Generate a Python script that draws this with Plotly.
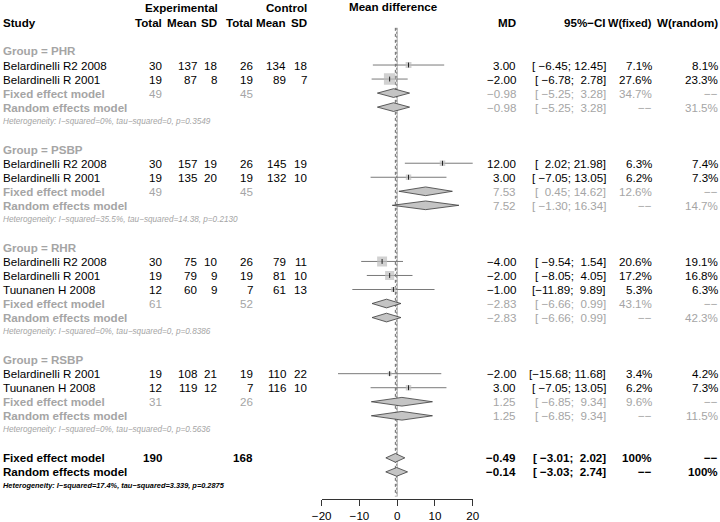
import plotly.graph_objects as go

# ---------------- data ----------------
group_names = ["PHR", "PSBP", "RHR", "RSBP"]

study_label = ["Belardinelli R2 2008", "Belardinelli R 2001",
               "Belardinelli R2 2008", "Belardinelli R 2001",
               "Belardinelli R2 2008", "Belardinelli R 2001", "Tuunanen H 2008",
               "Belardinelli R 2001", "Tuunanen H 2008"]
study_group = ["PHR", "PHR", "PSBP", "PSBP", "RHR", "RHR", "RHR", "RSBP", "RSBP"]
exp_total = [30, 19, 30, 19, 30, 19, 12, 19, 12]
exp_mean = [137, 87, 157, 135, 75, 79, 60, 108, 119]
exp_sd = [18, 8, 19, 20, 10, 9, 9, 21, 12]
ctl_total = [26, 19, 26, 19, 26, 19, 7, 19, 7]
ctl_mean = [134, 89, 145, 132, 79, 81, 61, 110, 116]
ctl_sd = [18, 7, 19, 10, 11, 10, 13, 22, 10]
study_md = [3.00, -2.00, 12.00, 3.00, -4.00, -2.00, -1.00, -2.00, 3.00]
study_lo = [-6.45, -6.78, 2.02, -7.05, -9.54, -8.05, -11.89, -15.68, -7.05]
study_hi = [12.45, 2.78, 21.98, 13.05, 1.54, 4.05, 9.89, 11.68, 13.05]
study_wfixed = [7.1, 27.6, 6.3, 6.2, 20.6, 17.2, 5.3, 3.4, 6.2]
study_wrandom = [8.1, 23.3, 7.4, 7.3, 19.1, 16.8, 6.3, 4.2, 7.3]

sub_exp_total = [49, 49, 61, 31]
sub_ctl_total = [45, 45, 52, 26]
sub_fixed_md = [-0.98, 7.53, -2.83, 1.25]
sub_fixed_lo = [-5.25, 0.45, -6.66, -6.85]
sub_fixed_hi = [3.28, 14.62, 0.99, 9.34]
sub_fixed_w = [34.7, 12.6, 43.1, 9.6]
sub_random_md = [-0.98, 7.52, -2.83, 1.25]
sub_random_lo = [-5.25, -1.30, -6.66, -6.85]
sub_random_hi = [3.28, 16.34, 0.99, 9.34]
sub_random_w = [31.5, 14.7, 42.3, 11.5]
sub_het = ["Heterogeneity: I\u2212squared=0%, tau\u2212squared=0, p=0.3549",
           "Heterogeneity: I\u2212squared=35.5%, tau\u2212squared=14.38, p=0.2130",
           "Heterogeneity: I\u2212squared=0%, tau\u2212squared=0, p=0.8386",
           "Heterogeneity: I\u2212squared=0%, tau\u2212squared=0, p=0.5636"]

overall_exp_total = 190
overall_ctl_total = 168
overall_fixed = [-0.49, -3.01, 2.02]
overall_random = [-0.14, -3.03, 2.74]
overall_het = "Heterogeneity: I\u2212squared=17.4%, tau\u2212squared=3.339, p=0.2875"

x_ticks = [-20, -10, 0, 10, 20]

# ---------------- styling ----------------
FONT = "Liberation Sans, Arial, Helvetica, sans-serif"
FS = 11.6
FS_HET = 8.2
FS_HET_B = 7.4
GRAY = "#a5a5a5"
W, H = 720, 522
ROW0, DROW = 8.9, 14.03  # pixel centre of row 0 and row spacing

def mnum(v, fmt="{:.2f}"):
    s = fmt.format(v)
    return s.replace("-", "\u2212")

def ci_str(lo, hi):
    a = mnum(lo)
    b = mnum(hi)
    a = "\u00a0" * (6 - len(a)) + a
    b = "\u00a0" * (5 - len(b)) + b
    return "[" + a + ";\u00a0" + b + "]"

def wstr(w):
    if w is None:
        return "\u2212\u2212"
    if w >= 100:
        return "100%"
    return "{:.1f}%".format(w)

annotations = []

def txt(xpx, row, s, anchor="right", bold=False, italic=False, color="black", size=FS):
    annotations.append(dict(
        x=xpx / W, xref="paper", y=row, yref="y", text=s, showarrow=False,
        xanchor=anchor, yanchor="middle", borderpad=0, borderwidth=0,
        font=dict(family=FONT, size=size, color=color,
                  weight="bold" if bold else "normal",
                  style="italic" if italic else "normal")))

# column right edges (px)
X_STUDY = 3
X_ETOT, X_EMEAN, X_ESD = 162, 197, 217
X_CTOT, X_CMEAN, X_CSD = 253, 286, 307
X_MD, X_CI, X_WF, X_WR = 516, 606, 652, 718

# headers
txt(X_ESD + 1, -0.12, "Experimental", bold=True)
txt(X_CSD, -0.12, "Control", bold=True)
txt(393.5, -0.2, "Mean difference", anchor="center", bold=True)
txt(X_STUDY, 1, "Study", anchor="left", bold=True)
for xp, s, sz in [(X_ETOT, "Total", FS), (X_EMEAN, "Mean", FS), (X_ESD, "SD", FS),
                  (X_CTOT, "Total", FS), (X_CMEAN, "Mean", FS), (X_CSD, "SD", FS),
                  (X_MD, "MD", FS), (X_CI, "95%\u2212CI", FS), (X_WF, "W(fixed)", 11.0),
                  (X_WR, "W(random)", FS)]:
    txt(xp, 1, s, bold=True, size=sz)

# build rows
study_rows = []
fixed_rows, random_rows = [], []
row = 3
for g, gname in enumerate(group_names):
    txt(X_STUDY, row, "Group = " + gname, anchor="left", bold=True, color=GRAY)
    row += 1
    for k in range(len(study_label)):
        if study_group[k] != gname:
            continue
        study_rows.append(row)
        txt(X_STUDY, row, study_label[k], anchor="left")
        txt(X_ETOT, row, str(exp_total[k]))
        txt(X_EMEAN, row, str(exp_mean[k]))
        txt(X_ESD, row, str(exp_sd[k]))
        txt(X_CTOT, row, str(ctl_total[k]))
        txt(X_CMEAN, row, str(ctl_mean[k]))
        txt(X_CSD, row, str(ctl_sd[k]))
        txt(X_MD, row, mnum(study_md[k]))
        txt(X_CI, row, ci_str(study_lo[k], study_hi[k]))
        txt(X_WF, row, wstr(study_wfixed[k]))
        txt(X_WR, row, wstr(study_wrandom[k]))
        row += 1
    fixed_rows.append(row)
    txt(X_STUDY, row, "Fixed effect model", anchor="left", bold=True, color=GRAY)
    txt(X_ETOT, row, str(sub_exp_total[g]), color=GRAY)
    txt(X_CTOT, row, str(sub_ctl_total[g]), color=GRAY)
    txt(X_MD, row, mnum(sub_fixed_md[g]), color=GRAY)
    txt(X_CI, row, ci_str(sub_fixed_lo[g], sub_fixed_hi[g]), color=GRAY)
    txt(X_WF, row, wstr(sub_fixed_w[g]), color=GRAY)
    txt(X_WR, row, wstr(None), color=GRAY)
    row += 1
    random_rows.append(row)
    txt(X_STUDY, row, "Random effects model", anchor="left", bold=True, color=GRAY)
    txt(X_MD, row, mnum(sub_random_md[g]), color=GRAY)
    txt(X_CI, row, ci_str(sub_random_lo[g], sub_random_hi[g]), color=GRAY)
    txt(X_WF, row, wstr(None), color=GRAY)
    txt(X_WR, row, wstr(sub_random_w[g]), color=GRAY)
    row += 1
    txt(X_STUDY, row, sub_het[g], anchor="left", italic=True, color=GRAY, size=FS_HET)
    row += 2

ov_fixed_row = row
txt(X_STUDY, row, "Fixed effect model", anchor="left", bold=True)
txt(X_ETOT, row, str(overall_exp_total), bold=True)
txt(X_CTOT, row, str(overall_ctl_total), bold=True)
txt(X_MD, row, mnum(overall_fixed[0]), bold=True)
txt(X_CI, row, ci_str(overall_fixed[1], overall_fixed[2]), bold=True)
txt(X_WF, row, wstr(100), bold=True)
txt(X_WR, row, wstr(None), bold=True)
row += 1
ov_random_row = row
txt(X_STUDY, row, "Random effects model", anchor="left", bold=True)
txt(X_MD, row, mnum(overall_random[0]), bold=True)
txt(X_CI, row, ci_str(overall_random[1], overall_random[2]), bold=True)
txt(X_WF, row, wstr(None), bold=True)
txt(X_WR, row, wstr(100), bold=True)
row += 1
txt(X_STUDY, row, overall_het, anchor="left", bold=True, italic=True, size=FS_HET_B)

# ---------------- forest traces ----------------
fig = go.Figure()

cx, cy = [], []
for k, r in enumerate(study_rows):
    cx += [study_lo[k], study_hi[k], None]
    cy += [r, r, None]
fig.add_trace(go.Scatter(x=cx, y=cy, mode="lines", line=dict(color="#7a7a7a", width=1),
                         hoverinfo="skip", showlegend=False))

max_w = max(study_wfixed)
sizes = [11.5 * (w / max_w) ** 0.5 for w in study_wfixed]
fig.add_trace(go.Scatter(x=study_md, y=study_rows, mode="markers",
                         marker=dict(symbol="square", size=sizes, color="#bdbdbd",
                                     line=dict(width=0)),
                         hoverinfo="skip", showlegend=False))
fig.add_trace(go.Scatter(x=study_md, y=study_rows, mode="markers",
                         marker=dict(symbol="line-ns-open", size=3.5, color="#222222",
                                     line=dict(width=1, color="#222222")),
                         hoverinfo="skip", showlegend=False))

HH = 0.31
def diamond(md, lo, hi, r):
    fig.add_trace(go.Scatter(x=[lo, md, hi, md, lo], y=[r, r - HH, r, r + HH, r],
                             mode="lines", fill="toself", fillcolor="#c4c4c4",
                             line=dict(color="#3a3a3a", width=0.8),
                             hoverinfo="skip", showlegend=False))

for g in range(len(group_names)):
    diamond(sub_fixed_md[g], sub_fixed_lo[g], sub_fixed_hi[g], fixed_rows[g])
    diamond(sub_random_md[g], sub_random_lo[g], sub_random_hi[g], random_rows[g])
diamond(overall_fixed[0], overall_fixed[1], overall_fixed[2], ov_fixed_row)
diamond(overall_random[0], overall_random[1], overall_random[2], ov_random_row)

# reference lines
y_top, y_bot = 1.35, 34.75
shapes = [
    dict(type="line", xref="x", yref="y", x0=0, x1=0, y0=y_top, y1=y_bot,
         line=dict(color="#a8a8a8", width=1), layer="below"),
    dict(type="line", xref="x", yref="y", x0=overall_fixed[0], x1=overall_fixed[0],
         y0=y_top, y1=y_bot, line=dict(color="#666666", width=1, dash="dot"), layer="below"),
    dict(type="line", xref="x", yref="y", x0=overall_random[0], x1=overall_random[0],
         y0=y_top, y1=y_bot, line=dict(color="#888888", width=1, dash="2px,2px"), layer="below"),
]

y_lo = -ROW0 / DROW
y_hi = (H - ROW0) / DROW
axis_px = 499

fig.update_layout(
    width=W, height=H, autosize=False,
    margin=dict(l=0, r=0, t=0, b=0, pad=0, autoexpand=False),
    paper_bgcolor="white", plot_bgcolor="white",
    showlegend=False, annotations=annotations, shapes=shapes,
    xaxis=dict(range=[-20, 20], domain=[321.7 / W, 472.7 / W], anchor="free",
               position=(H - axis_px) / H, showline=True, linecolor="#333333",
               linewidth=1, ticks="outside", ticklen=6, tickcolor="#333333",
               tickvals=x_ticks, showgrid=False, zeroline=False, automargin=False,
               tickfont=dict(family=FONT, size=FS, color="black")),
    yaxis=dict(range=[y_hi, y_lo], domain=[0, 1], visible=False, showgrid=False,
               zeroline=False, automargin=False),
)

fig.write_html("out.html", config={"displayModeBar": False, "responsive": False},
               post_script="document.body.style.margin='0';document.body.style.padding='0';")
